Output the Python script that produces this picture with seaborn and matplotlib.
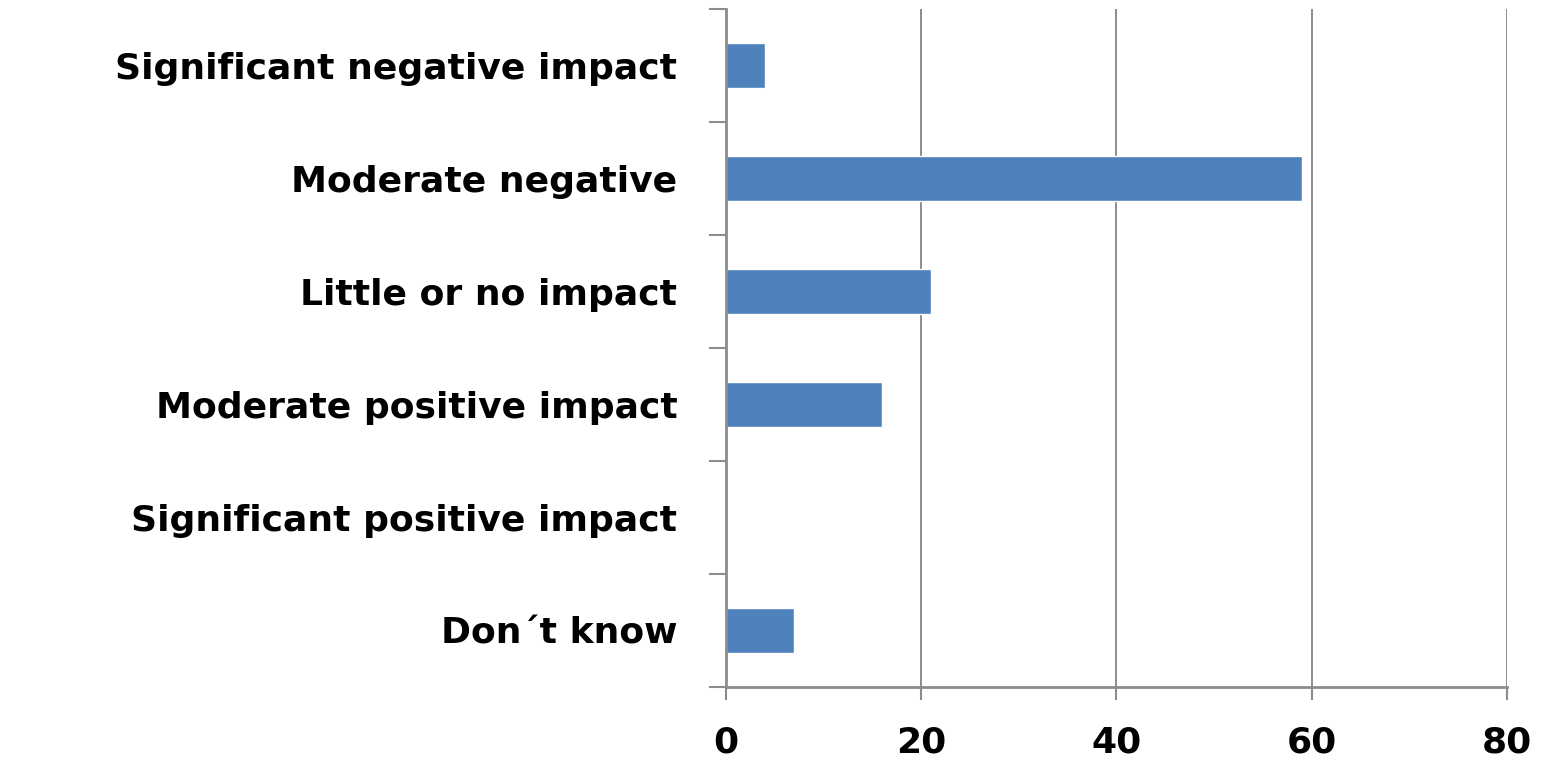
import matplotlib
matplotlib.use("Agg")
import matplotlib.pyplot as plt
import seaborn as sns
import pandas as pd

categories = [
    "Significant negative impact",
    "Moderate negative",
    "Little or no impact",
    "Moderate positive impact",
    "Significant positive impact",
    "Don\u00b4t know",
]
values = [4, 59, 21, 16, 0, 7]
x_ticks = [0, 20, 40, 60, 80]

df = pd.DataFrame({"category": categories, "value": values})

sns.set_theme(style="white")
plt.rcParams["font.family"] = ["DejaVu Sans"]

fig = plt.figure(figsize=(15.47, 7.58), dpi=100)
ax = fig.add_axes([0.4693, 0.0937, 0.5048, 0.8943])

sns.barplot(data=df, x="value", y="category", orient="h", color="#4F81BD",
            saturation=1, width=0.4, ax=ax)

grey = "#8C8C8C"
ax.set_xlim(0, 80)
ax.set_xticks(x_ticks)
ax.set_xticklabels([str(t) for t in x_ticks])
ax.set_ylim(len(categories) - 0.5, -0.5)
ax.xaxis.grid(True, color=grey, linewidth=1.4)
ax.set_axisbelow(True)
ax.set_xlabel("")
ax.set_ylabel("")

for side in ("top", "right"):
    ax.spines[side].set_visible(False)
for side in ("left", "bottom"):
    ax.spines[side].set_color(grey)
    ax.spines[side].set_linewidth(2)

# Category ticks sit on the boundaries between bars
ax.set_yticks([i - 0.5 for i in range(len(categories) + 1)], minor=True)
ax.tick_params(axis="y", which="major", length=0, pad=35,
               labelsize=26)
ax.tick_params(axis="y", which="minor", length=12, width=1.5, color=grey,
               direction="out", left=True)
ax.tick_params(axis="x", which="major", length=9, width=1.5, color=grey,
               direction="out", bottom=True, pad=19, labelsize=26)
for lab in ax.get_yticklabels() + ax.get_xticklabels():
    lab.set_fontweight("bold")
    lab.set_color("black")

fig.savefig("out.png", dpi=100, facecolor="white")
